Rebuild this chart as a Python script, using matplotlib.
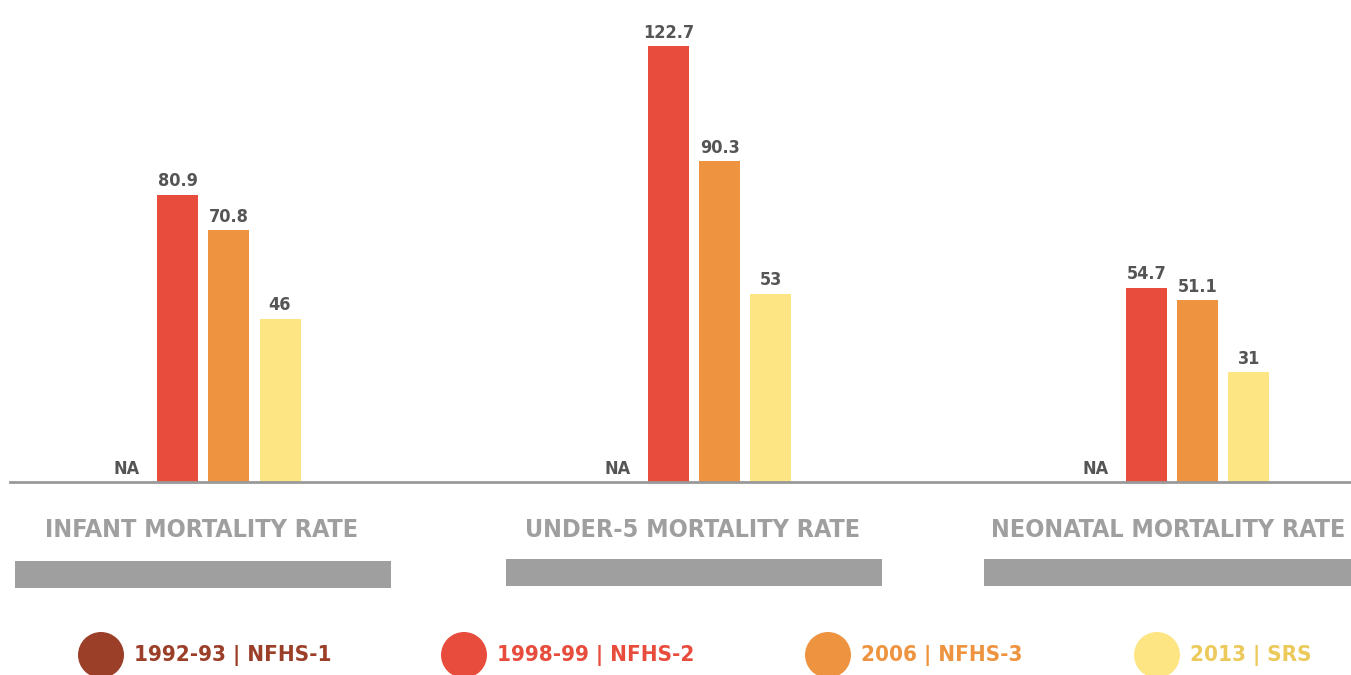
import matplotlib.pyplot as plt
from matplotlib.patches import Circle, Rectangle

# data
categories = ["INFANT MORTALITY RATE", "UNDER-5 MORTALITY RATE", "NEONATAL MORTALITY RATE"]
series = ["1992-93 | NFHS-1", "1998-99 | NFHS-2", "2006 | NFHS-3", "2013 | SRS"]
nfhs1 = [None, None, None]
nfhs2 = [80.9, 122.7, 54.7]
nfhs3 = [70.8, 90.3, 51.1]
srs = [46, 53, 31]

colors = ["#9B3F28", "#E84C3C", "#EE9440", "#FEE584"]
text_colors = ["#9B3F28", "#E84C3C", "#EE9440", "#EBC95B"]
grey = "#9E9F9E"
value_color = "#555555"
FONT = ["DejaVu Sans"]
STRETCH = "condensed"

W, H = 1351, 675
fig = plt.figure(figsize=(W / 100, H / 100), dpi=100)

# bars axes: baseline at y=482 px, left edge at x=10 px
base = 482
ax = fig.add_axes([10 / W, (H - base) / H, 1 - 10 / W, base / H])
ax.set_xlim(0, W - 10)
ax.set_ylim(0, base / 3.553)
ax.axis("off")
ax.axhline(0, color="#999999", lw=2, clip_on=False)

group_x = [117, 608, 1086]   # position of first slot in each group
step = 51
bw = 41
all_series = [nfhs1, nfhs2, nfhs3, srs]
for s, vals in enumerate(all_series):
    for g, v in enumerate(vals):
        x = group_x[g] + s * step
        if v is None:
            ax.text(x, 1.2, "NA", ha="center", va="bottom", fontsize=13,
                    fontweight="bold", color=value_color, family=FONT, fontstretch=STRETCH)
            continue
        ax.bar(x, v, width=bw, color=colors[s])
        ax.text(x, v + 1.2, f"{v:g}", ha="center", va="bottom", fontsize=13,
                fontweight="bold", color=value_color, family=FONT, fontstretch=STRETCH)

# overlay in pixel coordinates for labels and legend
ov = fig.add_axes([0, 0, 1, 1])
ov.set_xlim(0, W)
ov.set_ylim(H, 0)
ov.axis("off")

label_x = [202, 693, 1168]
band_x = [(15, 391), (506, 882), (984, 1351)]
band_y = [561, 559, 559]
for i, cat in enumerate(categories):
    ov.text(label_x[i], 530, cat, ha="center", va="center", fontsize=18,
            fontweight="bold", color=grey, family=FONT, fontstretch=STRETCH)
    x0, x1 = band_x[i]
    ov.add_patch(Rectangle((x0, band_y[i]), x1 - x0, 27, color=grey, lw=0))

legend_x = [101, 464, 828, 1157]
for i, name in enumerate(series):
    ov.add_patch(Circle((legend_x[i], 655), 23, color=colors[i], lw=0))
    ov.text(legend_x[i] + 33, 655, name, ha="left", va="center", fontsize=16,
            fontweight="bold", color=text_colors[i], family=FONT, fontstretch=STRETCH)

fig.savefig("out.png", dpi=100, facecolor="white")
